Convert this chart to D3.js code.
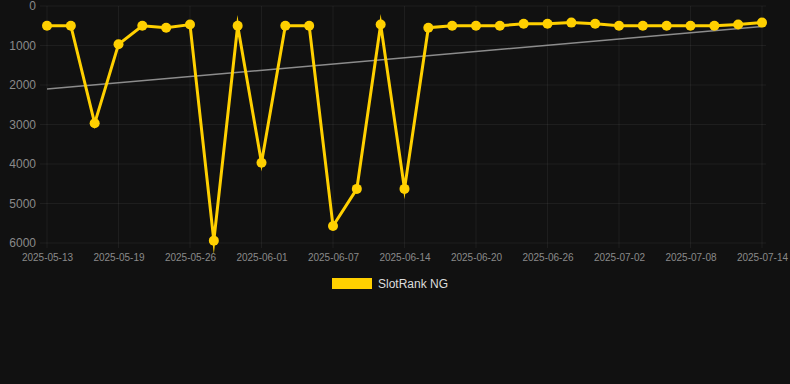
<!DOCTYPE html>
<html>
<head>
<meta charset="utf-8">
<script src="https://cdn.jsdelivr.net/npm/d3@7"></script>
<style>
  html, body { margin: 0; padding: 0; background: #111111; }
  svg { display: block; }
</style>
</head>
<body>
<svg id="chart" width="790" height="384"></svg>
<script>
// Dates (category axis) and SlotRank values
const dates = [
  '2025-05-13', '2025-05-15', '2025-05-17', '2025-05-19', '2025-05-21', '2025-05-24',
  '2025-05-26', '2025-05-28', '2025-05-30', '2025-06-01', '2025-06-03', '2025-06-05',
  '2025-06-07', '2025-06-09', '2025-06-12', '2025-06-14', '2025-06-16', '2025-06-18',
  '2025-06-20', '2025-06-22', '2025-06-24', '2025-06-26', '2025-06-28', '2025-06-30',
  '2025-07-02', '2025-07-04', '2025-07-06', '2025-07-08', '2025-07-10', '2025-07-12',
  '2025-07-14'
];
const rank = [
  500, 500, 2970, 970, 500, 550, 470, 5940, 500, 3970, 500, 500,
  5570, 4630, 470, 4630, 550, 500, 500, 500, 450, 450, 420, 450,
  500, 500, 500, 500, 500, 470, 420
];
// trend line end values
const trendDates = ['2025-05-13', '2025-07-14'];
const trendValues = [2100, 520];
const yTicks = [0, 1000, 2000, 3000, 4000, 5000, 6000];
const xTickLabels = dates.filter((d, i) => i % 3 === 0);
const seriesName = 'SlotRank NG';

const svg = d3.select('#chart');
const margin = { top: 6, right: 28, bottom: 141, left: 47 };
const width = 790, height = 384;

const x = d3.scalePoint().domain(dates).range([margin.left, width - margin.right]);
const y = d3.scaleLinear().domain([0, 6000]).range([margin.top, height - margin.bottom]);

const gridColor = 'rgba(255,255,255,0.055)';

// horizontal grid
svg.append('g').selectAll('line').data(yTicks).enter().append('line')
  .attr('x1', margin.left - 7).attr('x2', width - margin.right + 4)
  .attr('y1', d => y(d)).attr('y2', d => y(d))
  .attr('stroke', gridColor).attr('stroke-width', 1);

// vertical grid
svg.append('g').selectAll('line').data(xTickLabels).enter().append('line')
  .attr('x1', d => x(d)).attr('x2', d => x(d))
  .attr('y1', margin.top).attr('y2', height - margin.bottom + 5)
  .attr('stroke', gridColor).attr('stroke-width', 1);

// y axis
const yAxis = svg.append('g')
  .attr('transform', `translate(${margin.left - 11},0)`)
  .call(d3.axisLeft(y).tickValues(yTicks).tickFormat(d3.format('d')).tickSize(0).tickPadding(0));
yAxis.select('.domain').remove();
yAxis.selectAll('text')
  .attr('fill', '#8a8a8a')
  .style('font-family', 'Arial, "Liberation Sans", sans-serif')
  .style('font-size', '12px');

// x axis
const xAxis = svg.append('g')
  .attr('transform', `translate(0,${height - margin.bottom})`)
  .call(d3.axisBottom(x).tickValues(xTickLabels).tickSize(0).tickPadding(11));
xAxis.select('.domain').remove();
xAxis.selectAll('text')
  .attr('fill', '#8a8a8a')
  .style('font-family', 'Arial, "Liberation Sans", sans-serif')
  .style('font-size', '10px');

// trend line
svg.append('path')
  .datum(trendDates.map((d, i) => [d, trendValues[i]]))
  .attr('fill', 'none')
  .attr('stroke', '#8c8c8c')
  .attr('stroke-width', 1.5)
  .attr('d', d3.line().x(d => x(d[0])).y(d => y(d[1])));

// series line
svg.append('path')
  .datum(dates.map((d, i) => [d, rank[i]]))
  .attr('fill', 'none')
  .attr('stroke', '#ffd000')
  .attr('stroke-width', 3)
  .attr('stroke-linejoin', 'miter')
  .attr('stroke-miterlimit', 10)
  .attr('d', d3.line().x(d => x(d[0])).y(d => y(d[1])));

// points
svg.append('g').selectAll('circle').data(dates).enter().append('circle')
  .attr('cx', d => x(d))
  .attr('cy', (d, i) => y(rank[i]))
  .attr('r', 5)
  .attr('fill', '#ffd000');

// legend
const legend = svg.append('g');
legend.append('rect')
  .attr('x', 332).attr('y', 278).attr('width', 40).attr('height', 11)
  .attr('fill', '#ffd000');
legend.append('text')
  .attr('x', 378).attr('y', 288)
  .attr('fill', '#dddddd')
  .style('font-family', 'Arial, "Liberation Sans", sans-serif')
  .style('font-size', '12px')
  .text(seriesName);
</script>
</body>
</html>
